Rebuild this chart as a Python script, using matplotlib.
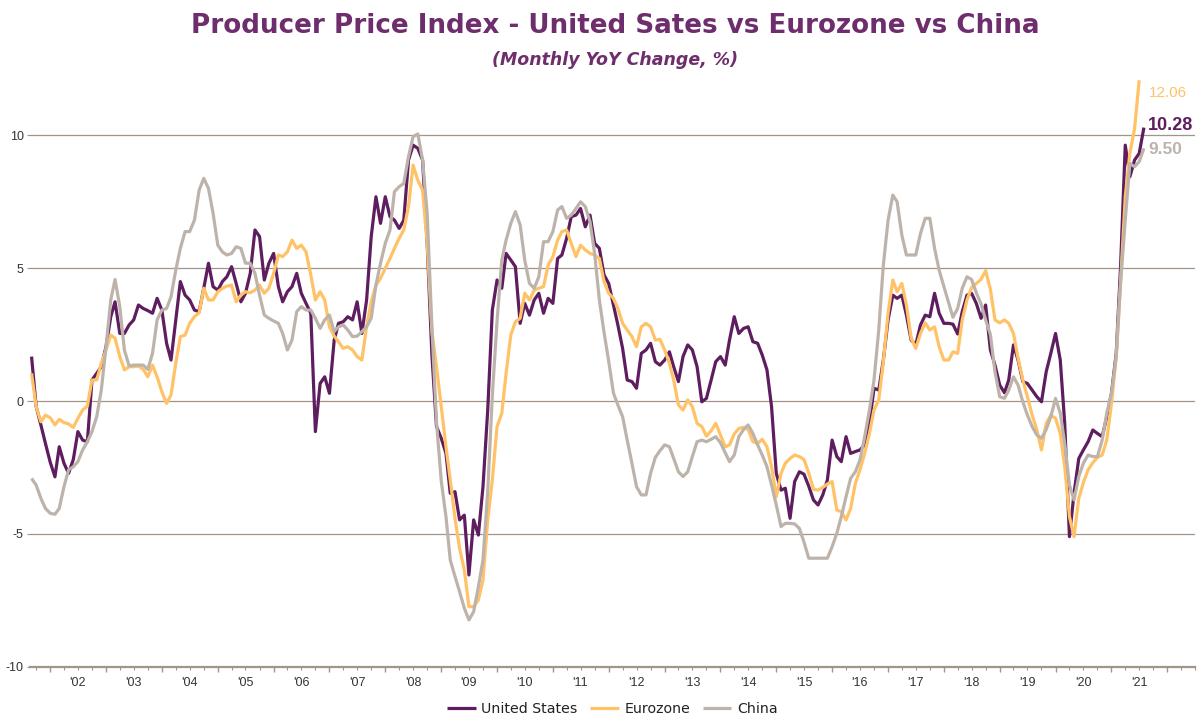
import numpy as np
import pandas as pd
import matplotlib
matplotlib.use("Agg")
import matplotlib.pyplot as plt
import matplotlib.dates as mdates
from matplotlib.ticker import FuncFormatter, NullFormatter

# ---------------- data (monthly YoY %, starting Sep 2001) ----------------
start_month = "2001-09-01"

us = [
    1.67, -0.2, -0.9, -1.6, -2.3, -2.85, -1.72, -2.34, -2.72, -2.2,
    -1.15, -1.47, -1.53, 0.79, 1.04, 1.29, 2.04, 3.17, 3.73, 2.54,
    2.54, 2.86, 3.05, 3.61, 3.48, 3.40, 3.30, 3.86, 3.42, 2.17,
    1.54, 3.05, 4.49, 3.98, 3.80, 3.42, 3.36, 4.24, 5.18, 4.30,
    4.17, 4.5, 4.67, 5.05, 4.42, 3.73, 4.05, 4.80, 6.43, 6.18,
    4.55, 5.18, 5.55, 4.30, 3.73, 4.11, 4.30, 4.80, 4.05, 3.67,
    3.30, -1.15, 0.66, 0.91, 0.29, 2.29, 2.92, 2.98, 3.17, 3.05,
    3.73, 2.54, 3.80, 6.18, 7.68, 6.68, 7.68, 6.93, 6.80, 6.49,
    6.80, 9.06, 9.62, 9.50, 9.06, 5.93, 1.73, -0.96, -1.40, -1.97,
    -3.47, -3.41, -4.47, -4.29, -6.54, -4.47, -5.04, -3.22, -0.34, 3.42,
    4.55, 4.24, 5.55, 5.30, 5.05, 2.92, 3.67, 3.23, 3.80, 4.05,
    3.30, 3.86, 3.67, 5.36, 5.49, 6.12, 6.93, 6.99, 7.24, 6.55,
    6.99, 5.93, 5.74, 4.75, 4.42, 3.61, 2.86, 1.98, 0.79, 0.73,
    0.48, 1.79, 1.92, 2.17, 1.48, 1.35, 1.54, 1.85, 1.29, 0.73,
    1.67, 2.11, 1.92, 1.29, -0.03, 0.10, 0.79, 1.48, 1.67, 1.35,
    2.29, 3.17, 2.54, 2.73, 2.79, 2.23, 2.17, 1.73, 1.17, -0.21,
    -2.72, -3.35, -3.28, -4.41, -3.03, -2.66, -2.75, -3.2, -3.72, -3.91,
    -3.53, -2.97, -1.47, -2.09, -2.28, -1.34, -1.97, -1.90, -1.84, -1.65,
    -0.84, 0.48, 0.41, 1.54, 3.05, 3.98, 3.86, 3.98, 3.23, 2.29,
    2.11, 2.86, 3.23, 3.17, 4.05, 3.30, 2.92, 2.92, 2.89, 2.52,
    3.36, 3.98, 4.05, 3.67, 3.11, 3.61, 1.92, 1.35, 0.6, 0.31,
    0.79, 2.11, 1.54, 0.73, 0.66, 0.41, 0.16, -0.03, 1.10, 1.79,
    2.54, 1.54, -0.84, -5.10, -3.47, -2.16, -1.84, -1.53, -1.09, -1.22,
    -1.34, -0.6, 0.3, 1.8, 5.0, 9.62, 8.43, 9.06, 9.31, 10.28,
]

eurozone = [
    1.04, -0.21, -0.78, -0.53, -0.63, -0.90, -0.69, -0.81, -0.86, -0.99,
    -0.65, -0.34, -0.19, 0.79, 0.79, 1.42, 1.92, 2.48, 2.36, 1.67,
    1.17, 1.29, 1.29, 1.32, 1.19, 0.91, 1.35, 0.91, 0.35, -0.09,
    0.23, 1.42, 2.42, 2.48, 2.92, 3.17, 3.32, 4.24, 3.80, 3.80,
    4.11, 4.24, 4.32, 4.36, 3.73, 3.98, 4.11, 4.07, 4.17, 4.36,
    4.05, 4.24, 4.80, 5.49, 5.43, 5.61, 6.05, 5.74, 5.86, 5.61,
    4.74, 3.80, 4.11, 3.80, 2.79, 2.44, 2.23, 1.98, 2.04, 1.92,
    1.67, 1.54, 2.79, 3.73, 4.36, 4.61, 4.99, 5.36, 5.74, 6.12,
    6.43, 7.31, 8.87, 8.3, 7.93, 5.93, 2.61, 1.3, -0.21, -1.72,
    -2.97, -4.41, -5.54, -6.35, -7.73, -7.73, -7.48, -6.73, -4.47, -2.97,
    -0.96, -0.46, 1.04, 2.48, 2.98, 3.11, 4.05, 3.80, 4.17, 4.24,
    4.30, 5.11, 5.43, 6.05, 6.37, 6.43, 5.93, 5.43, 5.86, 5.68,
    5.55, 5.49, 5.36, 4.5, 4.05, 3.86, 3.48, 2.92, 2.67, 2.42,
    2.04, 2.79, 2.92, 2.79, 2.29, 2.32, 1.92, 1.42, 0.79, -0.15,
    -0.34, 0.04, -0.21, -0.84, -0.96, -1.32, -1.12, -0.84, -1.28, -1.72,
    -1.65, -1.24, -1.03, -0.99, -1.07, -1.53, -1.59, -1.44, -1.72, -2.47,
    -3.60, -2.72, -2.34, -2.16, -2.03, -2.09, -2.2, -2.7, -3.32, -3.35,
    -3.25, -3.12, -3.03, -4.10, -4.16, -4.47, -4.04, -3.10, -2.59, -1.97,
    -1.22, -0.34, 0.04, 1.48, 3.30, 4.55, 4.11, 4.42, 3.61, 2.36,
    1.98, 2.54, 2.94, 2.67, 2.79, 2.04, 1.54, 1.54, 1.85, 1.79,
    3.05, 3.80, 4.27, 4.42, 4.57, 4.90, 4.2, 3.05, 2.94, 3.05,
    2.92, 2.54, 1.60, 0.79, 0.16, -0.53, -1.09, -1.84, -0.84, -0.53,
    -0.65, -1.22, -2.47, -4.35, -5.10, -3.66, -3.07, -2.59, -2.32, -2.12,
    -2.03, -1.47, -0.09, 1.67, 4.42, 7.68, 9.31, 10.25, 12.06,
]

china = [
    -2.91, -3.16, -3.66, -4.04, -4.22, -4.26, -4.04, -3.22, -2.59, -2.47,
    -2.28, -1.84, -1.53, -1.15, -0.59, 0.41, 2.04, 3.80, 4.57, 3.55,
    1.92, 1.32, 1.35, 1.35, 1.35, 1.19, 1.79, 3.05, 3.42, 3.48,
    3.92, 4.92, 5.74, 6.37, 6.37, 6.80, 7.93, 8.37, 7.99, 7.06,
    5.86, 5.6, 5.49, 5.55, 5.80, 5.74, 5.18, 5.18, 4.80, 3.98,
    3.23, 3.11, 3.01, 2.92, 2.54, 1.92, 2.29, 3.36, 3.55, 3.42,
    3.42, 3.11, 2.73, 3.05, 3.23, 2.61, 2.79, 2.86, 2.67, 2.42,
    2.44, 2.61, 2.79, 3.11, 4.36, 5.18, 5.93, 6.43, 7.87, 8.06,
    8.18, 9.19, 9.94, 10.04, 9.06, 7.06, 2.8, -0.8, -3.0, -4.35,
    -5.98, -6.60, -7.17, -7.79, -8.23, -7.92, -6.98, -5.98, -3.4, 0.2,
    3.0, 5.3, 6.05, 6.68, 7.12, 6.62, 5.30, 4.42, 4.24, 4.67,
    5.99, 5.99, 6.37, 7.18, 7.31, 6.87, 6.99, 7.24, 7.49, 7.31,
    6.74, 5.55, 3.8, 2.6, 1.5, 0.3, -0.15, -0.59, -1.47, -2.34,
    -3.22, -3.53, -3.53, -2.72, -2.12, -1.87, -1.65, -1.72, -2.16, -2.66,
    -2.84, -2.66, -2.09, -1.53, -1.47, -1.53, -1.44, -1.34, -1.57, -1.94,
    -2.28, -2.03, -1.34, -1.07, -0.90, -1.22, -1.65, -2.03, -2.47, -3.16,
    -3.91, -4.72, -4.60, -4.60, -4.62, -4.79, -5.3, -5.91, -5.91, -5.91,
    -5.91, -5.91, -5.48, -4.97, -4.35, -3.60, -2.91, -2.66, -2.22, -1.34,
    -0.34, 0.79, 2.67, 5.11, 6.80, 7.74, 7.49, 6.24, 5.49, 5.49,
    5.49, 6.30, 6.87, 6.87, 5.74, 4.92, 4.30, 3.70, 3.15, 3.48,
    4.24, 4.67, 4.57, 4.07, 3.65, 3.05, 2.5, 1.1, 0.16, 0.10,
    0.41, 0.91, 0.60, -0.03, -0.53, -0.96, -1.28, -1.40, -1.07, -0.59,
    0.10, -0.46, -1.59, -3.16, -3.72, -2.84, -2.34, -2.03, -2.09, -2.09,
    -1.47, -0.46, 0.29, 1.67, 4.42, 6.80, 8.93, 8.81, 9.0, 9.50,
]

series_names = ["United States", "Eurozone", "China"]
series_colors = ["#5E1D5F", "#FFC266", "#BDB3AB"]

title_text = "Producer Price Index - United Sates vs Eurozone vs China"
subtitle_text = "(Monthly YoY Change, %)"
y_ticks = [-10, -5, 0, 5, 10]
last_labelled_year = 2021

# ---------------- figure ----------------
plt.rcParams["axes.unicode_minus"] = False
fig = plt.figure(figsize=(12.01, 7.22), dpi=100)
ax = fig.add_axes([0.025, 0.0762, 0.97, 0.8178])

grid_col = "#A39488"
text_col = "#333333"

all_series = [us, eurozone, china]
lines = []
for vals, name, col in zip(all_series, series_names, series_colors):
    d = pd.date_range(start_month, periods=len(vals), freq="MS")
    (ln,) = ax.plot(d, vals, color=col, lw=2.3, label=name, clip_on=False,
                    solid_joinstyle="round", solid_capstyle="butt")
    lines.append((ln, d[-1], vals[-1]))

ax.set_ylim(-10, 12.2)
ax.set_xlim(pd.Timestamp("2001-08-22"), pd.Timestamp("2022-07-01"))

# y axis
ax.set_yticks(y_ticks)
ax.set_yticklabels([str(v) for v in y_ticks], fontsize=9, color=text_col,
                   family="Liberation Sans")
ax.tick_params(axis="y", length=2.5, width=0.8, color=grid_col, pad=2)
ax.yaxis.grid(True, color=grid_col, lw=0.9)
ax.set_axisbelow(True)

# x axis: year boundary ticks, quarter minor ticks, labels mid-year
ax.xaxis.set_major_locator(mdates.YearLocator())
ax.xaxis.set_major_formatter(NullFormatter())
ax.xaxis.set_minor_locator(mdates.MonthLocator(bymonth=[4, 7, 10]))


def minor_fmt(x, pos):
    dt = mdates.num2date(x)
    if dt.month == 7 and dt.year <= last_labelled_year:
        return dt.strftime("'%y")
    return ""


ax.xaxis.set_minor_formatter(FuncFormatter(minor_fmt))
ax.tick_params(axis="x", which="major", length=3.5, width=1.0, color=grid_col)
ax.tick_params(axis="x", which="minor", length=2.0, width=0.8, color=grid_col,
               pad=5, labelsize=9, labelcolor=text_col)
for lab in ax.get_xticklabels(minor=True):
    lab.set_family("Liberation Sans")

for s in ["top", "right", "left"]:
    ax.spines[s].set_visible(False)
ax.spines["bottom"].set_color(grid_col)
ax.spines["bottom"].set_linewidth(1.6)

# end-value labels
label_offsets = [(3, 1.5), (7, -9.5), (3, -0.5)]
label_sizes = [13, 11, 12.5]
label_weights = ["bold", "normal", "bold"]
for (ln, xd, yv), col, off, fs, fw in zip(lines, series_colors, label_offsets,
                                          label_sizes, label_weights):
    ax.annotate(f"{yv:.2f}", xy=(xd, yv), xytext=off, textcoords="offset points",
                ha="left", va="center", color=col, fontsize=fs, fontweight=fw,
                family="Liberation Sans", annotation_clip=False)

# titles
title_col = "#6E2D6C"
fig.text(0.512, 1 - 26 / 722, title_text, ha="center", va="center",
         fontsize=18.8, fontweight="bold", color=title_col, family="DejaVu Sans")
fig.text(0.512, 1 - 60 / 722, subtitle_text, ha="center", va="center",
         fontsize=12.5, style="italic", fontweight="bold", color=title_col,
         family="DejaVu Sans")

# legend
leg = fig.legend(handles=[l[0] for l in lines], labels=series_names,
                 loc="center", bbox_to_anchor=(0.51, 1 - 709 / 722), ncol=3,
                 frameon=False, fontsize=10.2, handlelength=2.0,
                 handletextpad=0.4, columnspacing=0.9)
for t in leg.get_texts():
    t.set_color("#222222")

fig.savefig("out.png", dpi=100)
